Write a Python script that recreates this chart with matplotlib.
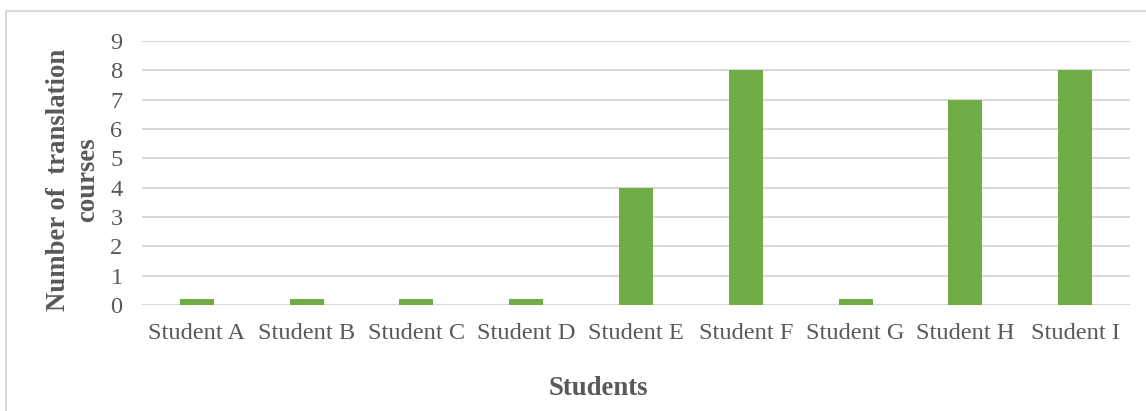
import matplotlib
matplotlib.use("Agg")
import matplotlib.pyplot as plt
from matplotlib.patches import Rectangle

categories = ["Student A", "Student B", "Student C", "Student D", "Student E",
              "Student F", "Student G", "Student H", "Student I"]
values = [0.2, 0.2, 0.2, 0.2, 4, 8, 0.2, 7, 8]
yticks = [0, 1, 2, 3, 4, 5, 6, 7, 8, 9]

plt.rcParams['font.family'] = ['Liberation Serif', 'DejaVu Serif']
W, H = 1146, 411
fig = plt.figure(figsize=(W / 100, H / 100), dpi=100)
fig.patches.append(Rectangle((6 / W, -0.1), 1.2, 1 - 11 / H + 0.1, transform=fig.transFigure,
                             fill=False, edgecolor='#D9D9D9', linewidth=1.5, zorder=0))

ax = fig.add_axes([142 / W, 1 - 305 / H, (1130 - 142) / W, (305 - 41) / H])
x = range(len(categories))
ax.bar(x, values, width=0.31, color='#70AD47', zorder=3)
ax.set_xlim(-0.5, len(categories) - 0.5)
ax.set_ylim(0, 9)
ax.set_yticks(yticks)
ax.set_xticks(list(x))
ax.set_xticklabels(categories)
ax.yaxis.grid(True, color='#D9D9D9', linewidth=1.5, zorder=0)
ax.set_axisbelow(True)
for s in ax.spines.values():
    s.set_visible(False)
ax.tick_params(axis='both', length=0, labelsize=17.6, labelcolor='#595959')
ax.tick_params(axis='y', pad=14)
ax.tick_params(axis='x', pad=13)

fig.text(73 / W, 1 - 180 / H, "Number of  translation\ncourses", rotation=90,
         ha='center', va='center', multialignment='center', fontsize=19.3,
         fontweight='bold', color='#595959', linespacing=1.2)
fig.text(598 / W, 1 - 388 / H, "Students", ha='center', va='center', fontsize=19.3,
         fontweight='bold', color='#595959')

fig.savefig("out.png", dpi=100)
